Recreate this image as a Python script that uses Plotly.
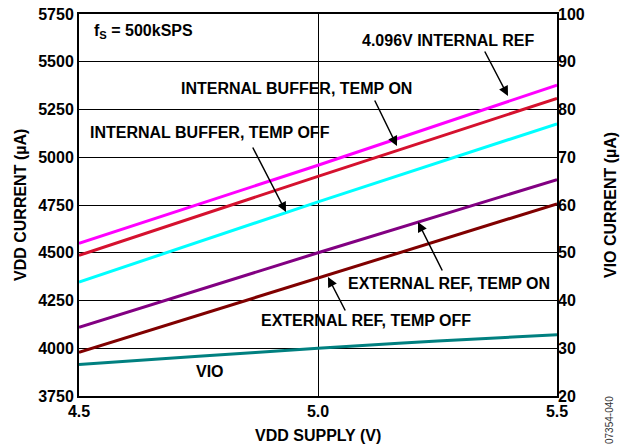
import plotly.graph_objects as go

vdd = [4.5, 5.0, 5.5]
int_ref_4096 = [4549, 4958, 5378]
int_buf_temp_on = [4486, 4900, 5308]
int_buf_temp_off = [4347, 4766, 5175]
ext_ref_temp_on = [4110, 4500, 4883]
ext_ref_temp_off = [3979, 4368, 4756]
vio_x = [4.5, 4.75, 5.0, 5.25, 5.5]
vio = [26.6, 28.3, 30.0, 31.5, 32.85]

left_ticks = [3750, 4000, 4250, 4500, 4750, 5000, 5250, 5500, 5750]
right_ticks = [20, 30, 40, 50, 60, 70, 80, 90, 100]
x_ticks = [4.5, 5.0, 5.5]
x_tick_text = ["4.5", "5.0", "5.5"]

FONT = "Liberation Sans, Arial, sans-serif"
FS = 16
OFF = 8  # page body margin of the browser
W, H = 636 - OFF, 446 - OFF

fig = go.Figure()
series = [
    (int_ref_4096, "#FF00FF", "4.096V INTERNAL REF"),
    (int_buf_temp_on, "#D5112E", "INTERNAL BUFFER, TEMP ON"),
    (int_buf_temp_off, "#00FFFF", "INTERNAL BUFFER, TEMP OFF"),
    (ext_ref_temp_on, "#820082", "EXTERNAL REF, TEMP ON"),
    (ext_ref_temp_off, "#800000", "EXTERNAL REF, TEMP OFF"),
]
for ys, col, name in series:
    fig.add_trace(go.Scatter(x=vdd, y=ys, mode="lines", name=name,
                             line=dict(color=col, width=3), yaxis="y"))
fig.add_trace(go.Scatter(x=vio_x, y=vio, mode="lines", name="VIO",
                         line=dict(color="#008080", width=3, shape="spline"), yaxis="y2"))

# plot area in reference-page pixels
L, R, T, B = 79, 557, 14, 396
def px(x):
    return (x - L) / (R - L)
def py(y):
    return (B - y) / (B - T)

anns = []
def label(text, x, y, xanchor="center", angle=0, size=FS):
    anns.append(dict(text=text, x=px(x), y=py(y), xref="paper", yref="paper",
                     showarrow=False, xanchor=xanchor, yanchor="middle", textangle=angle,
                     font=dict(family=FONT, size=size, color="black")))
def arrow(tx, ty, hx, hy):
    anns.append(dict(text="", x=px(hx), y=py(hy), xref="paper", yref="paper",
                     ax=tx - hx, ay=ty - hy, axref="pixel", ayref="pixel",
                     showarrow=True, arrowhead=2, arrowsize=1.3, arrowwidth=1.5,
                     arrowcolor="black", standoff=0, startstandoff=0))

label("<b>f<sub>S</sub> = 500kSPS</b>", 92, 32, "left")
label("<b>4.096V INTERNAL REF</b>", 448, 40)
arrow(484, 50, 508, 96)
label("<b>INTERNAL BUFFER, TEMP ON</b>", 296, 88)
arrow(374, 99, 397, 146)
label("<b>INTERNAL BUFFER, TEMP OFF</b>", 210, 132)
arrow(252, 146, 286, 212)
label("<b>EXTERNAL REF, TEMP ON</b>", 449, 283)
arrow(443, 272, 418, 222)
label("<b>EXTERNAL REF, TEMP OFF</b>", 366, 320)
arrow(346, 312, 328, 277)
label("<b>VIO</b>", 210, 371)
label("<b>VDD SUPPLY (V)</b>", 318, 436)
label("<b>VDD CURRENT (µA)</b>", 20, 205, angle=-90)
label("<b>VIO CURRENT (µA)</b>", 610, 205, angle=-90)
anns.append(dict(text="07354-040", x=px(609), y=py(420), xref="paper", yref="paper",
                 showarrow=False, textangle=-90, xanchor="center", yanchor="middle",
                 font=dict(family=FONT, size=10, color="#333333")))

axis_common = dict(showline=True, linecolor="black", linewidth=2, mirror=True,
                   showgrid=True, gridcolor="black", gridwidth=1, ticks="",
                   zeroline=False, automargin=False, ticklabeloverflow="allow",
                   tickfont=dict(family=FONT, size=FS, color="black"))

fig.update_layout(
    width=W, height=H,
    margin=dict(l=L - OFF, r=636 - R, t=T - OFF, b=446 - B),
    paper_bgcolor="white", plot_bgcolor="white",
    showlegend=False,
    annotations=anns,
    xaxis=dict(range=[4.5, 5.5], tickvals=x_ticks, ticktext=["<b>%s</b>" % t for t in x_tick_text],
               **axis_common),
    yaxis=dict(range=[3750, 5750], tickvals=left_ticks, ticktext=["<b>%d</b>" % t for t in left_ticks],
               **axis_common),
    yaxis2=dict(range=[20, 100], tickvals=right_ticks, ticktext=["<b>%d</b>" % t for t in right_ticks],
                overlaying="y", side="right", showgrid=False, showline=False, ticks="", zeroline=False,
                automargin=False, ticklabeloverflow="allow",
                tickfont=dict(family=FONT, size=FS, color="black")),
)

fig.write_html("out.html")
